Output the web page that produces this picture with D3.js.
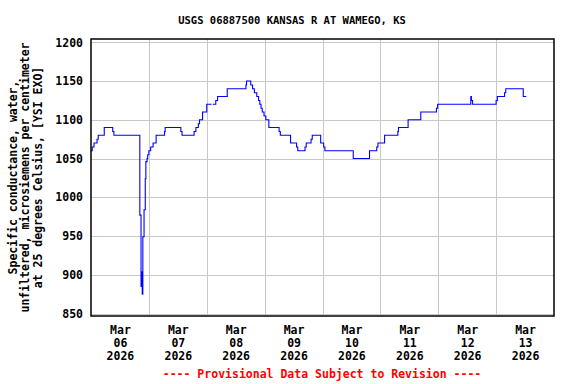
<!DOCTYPE html>
<html>
<head>
<meta charset="utf-8">
<script src="https://cdn.jsdelivr.net/npm/d3@7"></script>
<style>
  html, body { margin: 0; padding: 0; background: #fff; }
  svg { display: block; }
  text { font-family: "DejaVu Sans Mono", "Liberation Mono", monospace; font-weight: bold; }
</style>
</head>
<body>
<svg id="chart" width="576" height="384"></svg>
<script>
// ---- data ----
const titleText = "USGS 06887500 KANSAS R AT WAMEGO, KS";
const yTitleLines = ["Specific conductance, water,", "unfiltered, microsiemens per centimeter", "at 25 degrees Celsius, [YSI EXO]"];
const footerText = "---- Provisional Data Subject to Revision ----";

const times = [
  "2026-03-06 00:00","2026-03-06 00:30","2026-03-06 01:15","2026-03-06 02:30","2026-03-06 03:00",
  "2026-03-06 05:30","2026-03-06 09:00","2026-03-06 09:30","2026-03-06 20:15","2026-03-06 20:45",
  "2026-03-06 21:00","2026-03-06 21:15","2026-03-06 21:30","2026-03-06 22:00","2026-03-06 22:30",
  "2026-03-06 22:45","2026-03-06 23:15","2026-03-06 23:30","2026-03-07 00:00","2026-03-07 00:45",
  "2026-03-07 01:45","2026-03-07 03:00","2026-03-07 06:30","2026-03-07 06:45","2026-03-07 13:15",
  "2026-03-07 13:45","2026-03-07 18:45","2026-03-07 19:30","2026-03-07 20:30","2026-03-07 21:00",
  "2026-03-07 22:15","2026-03-08 00:00","2026-03-08 02:00","2026-03-08 02:15","2026-03-08 02:30",
  "2026-03-08 03:45","2026-03-08 04:30","2026-03-08 08:30","2026-03-08 16:15","2026-03-08 16:30",
  "2026-03-08 18:15","2026-03-08 19:00","2026-03-08 19:45","2026-03-08 20:45","2026-03-08 21:30",
  "2026-03-08 22:00","2026-03-08 22:30","2026-03-08 23:00","2026-03-08 23:45","2026-03-09 00:30",
  "2026-03-09 01:45","2026-03-09 06:00","2026-03-09 06:30","2026-03-09 10:45","2026-03-09 13:15",
  "2026-03-09 13:45","2026-03-09 16:45","2026-03-09 17:15","2026-03-09 19:15","2026-03-09 19:45",
  "2026-03-09 23:15","2026-03-10 00:30","2026-03-10 01:00","2026-03-10 12:45","2026-03-10 19:30",
  "2026-03-10 22:30","2026-03-10 23:00","2026-03-11 01:45","2026-03-11 07:15","2026-03-11 07:30",
  "2026-03-11 11:30","2026-03-11 16:45","2026-03-11 23:15","2026-03-11 23:45","2026-03-12 13:30",
  "2026-03-12 13:45","2026-03-12 14:15","2026-03-13 00:00","2026-03-13 00:30","2026-03-13 03:30",
  "2026-03-13 04:00","2026-03-13 11:15","2026-03-13 12:30"
];
const values = [
  1060,1065,1070,1075,1080,
  1090,1085,1080,977,885,
  904,875,949,984,1024,
  1046,1050,1055,1060,1065,
  1070,1080,1085,1090,1085,
  1080,1085,1090,1095,1100,
  1110,1120,1120,null,1120,
  1125,1130,1140,1145,1150,
  1145,1140,1135,1130,1125,
  1120,1115,1110,1105,1100,
  1090,1085,1080,1070,1065,
  1060,1065,1070,1075,1080,
  1070,1065,1060,1050,1060,
  1065,1070,1080,1085,1090,
  1100,1110,1115,1120,1130,
  1125,1120,1125,1130,1135,
  1140,1130,1130
];

const xStart = "2026-03-06 00:00";
const xEnd = "2026-03-14 00:00";
const gridDays = ["2026-03-07","2026-03-08","2026-03-09","2026-03-10","2026-03-11","2026-03-12","2026-03-13"];
const labelDays = ["2026-03-06","2026-03-07","2026-03-08","2026-03-09","2026-03-10","2026-03-11","2026-03-12","2026-03-13"];
const yTicks = [850, 900, 950, 1000, 1050, 1100, 1150, 1200];
const yDomain = [846.8, 1204.3];

// ---- drawing ----
const parseT = d3.timeParse("%Y-%m-%d %H:%M");
const parseD = d3.timeParse("%Y-%m-%d");
const plot = { left: 91, right: 554, top: 39, bottom: 316 };

const svg = d3.select("#chart");
const x = d3.scaleTime().domain([parseT(xStart), parseT(xEnd)]).range([plot.left, plot.right]);
const y = d3.scaleLinear().domain(yDomain).range([plot.bottom, plot.top]);

const data = times.map((t, i) => ({ t: parseT(t), v: values[i] }));

// gridlines
const grid = svg.append("g").attr("stroke", "#c8c8c8").attr("stroke-width", 1).attr("shape-rendering", "crispEdges");
grid.selectAll("line.h").data(yTicks).join("line")
  .attr("x1", plot.left).attr("x2", plot.right)
  .attr("y1", d => Math.round(y(d)) + 0.5).attr("y2", d => Math.round(y(d)) + 0.5);
grid.selectAll("line.v").data(gridDays).join("line")
  .attr("y1", plot.top).attr("y2", plot.bottom)
  .attr("x1", d => Math.round(x(parseD(d))) + 0.5).attr("x2", d => Math.round(x(parseD(d))) + 0.5);

// data line
const line = d3.line()
  .defined(d => d.v !== null)
  .x(d => x(d.t)).y(d => y(d.v))
  .curve(d3.curveStepAfter);
svg.append("path").datum(data)
  .attr("fill", "none").attr("stroke", "#0000ff").attr("stroke-width", 1.1)
  .attr("d", line);

// frame
svg.append("rect")
  .attr("x", plot.left).attr("y", plot.top)
  .attr("width", plot.right - plot.left).attr("height", plot.bottom - plot.top)
  .attr("fill", "none").attr("stroke", "#000").attr("stroke-width", 1.5);

// y axis labels
const yAxis = d3.axisLeft(y).tickValues(yTicks).tickSize(0).tickPadding(8).tickFormat(d3.format("d"));
const gy = svg.append("g").attr("transform", `translate(${plot.left},0)`).call(yAxis);
gy.select(".domain").remove();
gy.selectAll("text").attr("font-size", 11.5).attr("fill", "#000")
  .style("font-family", "'DejaVu Sans Mono', monospace").style("font-weight", "bold");

// x axis labels
const fmtMon = d3.timeFormat("%b"), fmtDay = d3.timeFormat("%d"), fmtYr = d3.timeFormat("%Y");
const noon = labelDays.map(d => d3.timeHour.offset(parseD(d), 12));
const xAxis = d3.axisBottom(x).tickValues(noon).tickSize(0).tickFormat("");
const gx = svg.append("g").attr("transform", `translate(0,${plot.bottom})`).call(xAxis);
gx.select(".domain").remove();
gx.selectAll(".tick").each(function(d) {
  const t = d3.select(this).append("text")
    .attr("fill", "#000").attr("text-anchor", "middle").attr("font-size", 11.5)
    .style("font-family", "'DejaVu Sans Mono', monospace").style("font-weight", "bold");
  [fmtMon(d), fmtDay(d), fmtYr(d)].forEach((s, i) => {
    t.append("tspan").attr("x", 0).attr("y", 18 + i * 13).text(s);
  });
});

// title
svg.append("text").attr("x", 292).attr("y", 24).attr("text-anchor", "middle")
  .attr("font-size", 10.5).attr("fill", "#000").text(titleText);

// y title
const yt = svg.append("g").attr("transform", `translate(0,${(plot.top + plot.bottom) / 2}) rotate(-90)`);
yTitleLines.forEach((s, i) => {
  yt.append("text").attr("x", 0).attr("y", 17 + i * 12.3).attr("text-anchor", "middle")
    .attr("font-size", 11.5).attr("fill", "#000").text(s);
});

// footer
svg.append("text").attr("x", 322).attr("y", 378).attr("text-anchor", "middle")
  .attr("font-size", 11.5).attr("fill", "#ff0000").text(footerText);
</script>
</body>
</html>
